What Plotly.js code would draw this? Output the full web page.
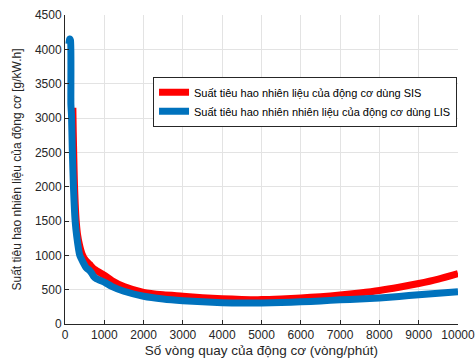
<!DOCTYPE html>
<html><head><meta charset="utf-8">
<script src="https://cdn.plot.ly/plotly-3.0.1.min.js"></script>
<style>body{margin:0;background:#fff}#chart{width:475px;height:362px}</style>
</head><body><div id="chart"></div>
<script>
const rpmSIS = [200,210,225,240,260,285,320,370,435,520,625,720,850,1000,1200,1500,2000,2500,3000,3500,4000,4500,5000,5500,6000,6500,7000,7500,8000,8500,9000,9500,10000];
const sfcSIS = [3150,2800,2400,2050,1750,1500,1300,1150,1020,930,870,810,760,710,630,545,460,425,405,383,368,358,355,365,380,398,422,452,488,535,590,655,735];
const rpmLIS = [100,120,140,150,165,185,215,258,300,375,450,540,625,680,720,800,1000,1200,1500,2000,2500,3000,3500,4000,4500,5000,5500,6000,6500,7000,7500,8000,8500,9000,9500,10000];
const sfcLIS = [4080,4150,4130,3200,3050,2550,2000,1500,1270,1000,910,820,780,740,700,660,610,545,477,405,365,340,323,310,305,307,313,323,336,352,365,380,402,427,447,468];
const xTicks = [0,1000,2000,3000,4000,5000,6000,7000,8000,9000,10000];
const yTicks = [0,500,1000,1500,2000,2500,3000,3500,4000,4500];
const names = ['Suất tiêu hao nhiên liệu của động cơ dùng SIS','Suất tiêu hao nhiên nhiên liệu của động cơ dùng LIS'];

const font = {family:'Liberation Sans, Arial, sans-serif', color:'#262626', size:12};
Plotly.newPlot('chart', [
  {x: rpmSIS, y: sfcSIS, mode:'lines', name: names[0], line:{color:'#FF0000', width:7, shape:'spline', smoothing:0.6}},
  {x: rpmLIS, y: sfcLIS, mode:'lines', name: names[1], line:{color:'#0072BD', width:7, shape:'spline', smoothing:0.6}}
], {
  width:475, height:362,
  margin:{l:65, r:17, t:15, b:38},
  paper_bgcolor:'#fff', plot_bgcolor:'#fff',
  font: font,
  showlegend:true,
  legend:{x:0.224, y:0.80, xanchor:'left', yanchor:'top', bgcolor:'#fff', bordercolor:'#262626', borderwidth:1,
          font:{family:font.family, size:11, color:'#000'}, tracegroupgap:0, itemwidth:30},
  xaxis:{range:[0,10000], tickvals:xTicks, ticktext:xTicks.map(String), showgrid:true, gridcolor:'#e3e3e3',
         zeroline:false, showline:true, linecolor:'#262626', linewidth:1, ticks:'inside', ticklen:4, tickcolor:'#262626',
         ticklabeloverflow:'allow',
         title:{text:'Số vòng quay của động cơ (vòng/phút)', font:{size:13.5, family:font.family, color:'#262626'}, standoff:4}},
  yaxis:{range:[0,4500], tickvals:yTicks, ticktext:yTicks.map(String), showgrid:true, gridcolor:'#e3e3e3',
         zeroline:false, showline:true, linecolor:'#262626', linewidth:1, ticks:'inside', ticklen:4, tickcolor:'#262626',
         title:{text:'Suất tiêu hao nhiên liệu của động cơ [g/kW.h]', font:{size:12, family:font.family, color:'#262626'}, standoff:10}}
}, {staticPlot:true, displayModeBar:false});
</script></body></html>
